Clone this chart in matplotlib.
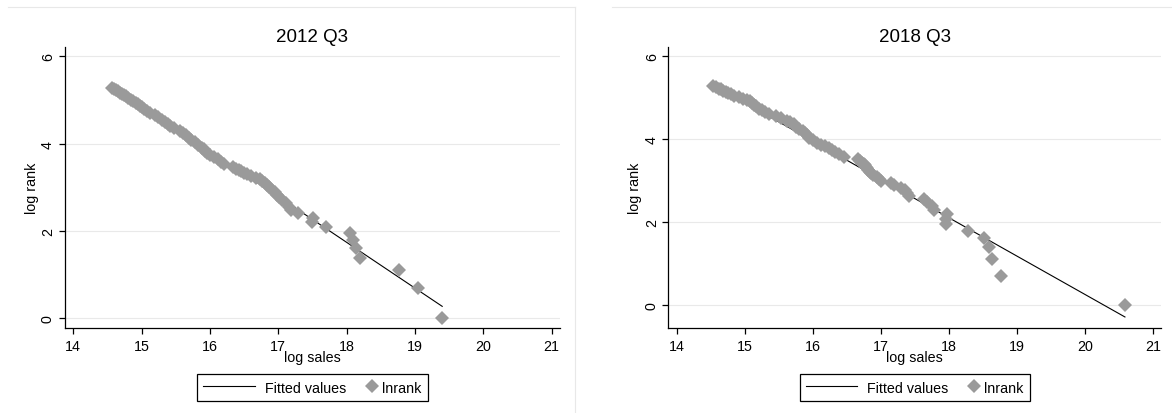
import matplotlib
matplotlib.use("Agg")
import matplotlib.pyplot as plt
from matplotlib.lines import Line2D
from matplotlib.legend_handler import HandlerLine2DCompound
import numpy as np

plt.rcParams['font.family'] = ['Liberation Sans', 'DejaVu Sans']

# ---------------- data ----------------
titles = ["2012 Q3", "2018 Q3"]
x_label = "log sales"
y_label = "log rank"
legend_labels = ["Fitted values", "lnrank"]
x_ticks = [14, 15, 16, 17, 18, 19, 20, 21]
y_ticks = [0, 2, 4, 6]

lnrank_2012 = [5.27, 5.25, 5.22, 5.20, 5.17, 5.14, 5.11, 5.08, 5.05, 5.01,
               4.98, 4.94, 4.91, 4.87, 4.83, 4.79, 4.74, 4.70, 4.65, 4.60,
               4.55, 4.50, 4.45, 4.41, 4.36, 4.30, 4.25, 4.19, 4.14, 4.09,
               4.03, 3.97, 3.91, 3.87, 3.83, 3.78, 3.74, 3.69, 3.64, 3.58,
               3.53, 3.47, 3.43, 3.40, 3.37, 3.33, 3.30, 3.26, 3.22, 3.18,
               3.14, 3.09, 3.05, 3.00, 2.94, 2.89, 2.83, 2.77, 2.71, 2.64,
               2.56, 2.48, 2.40, 2.30, 2.20, 2.08, 1.95, 1.79, 1.61, 1.39,
               1.10, 0.69, 0.00]
logsales_2012 = [14.57, 14.60, 14.63, 14.65, 14.68, 14.71, 14.74, 14.77, 14.80, 14.84,
                 14.88, 14.92, 14.95, 14.98, 15.01, 15.04, 15.08, 15.13, 15.19, 15.24,
                 15.30, 15.34, 15.38, 15.42, 15.48, 15.57, 15.61, 15.65, 15.69, 15.73,
                 15.78, 15.83, 15.88, 15.91, 15.93, 15.96, 16.00, 16.06, 16.12, 16.17,
                 16.21, 16.34, 16.38, 16.42, 16.45, 16.50, 16.54, 16.60, 16.68, 16.73,
                 16.77, 16.81, 16.84, 16.87, 16.91, 16.95, 16.98, 17.01, 17.06, 17.11,
                 17.16, 17.19, 17.29, 17.51, 17.50, 17.70, 18.05, 18.09, 18.14, 18.19,
                 18.77, 19.05, 19.40]
fit_2012 = (20.605, -1.048)   # intercept, slope

lnrank_2018 = [5.28, 5.25, 5.22, 5.20, 5.17, 5.14, 5.11, 5.08, 5.05, 5.01,
               4.98, 4.94, 4.91, 4.87, 4.83, 4.79, 4.74, 4.70, 4.65, 4.60,
               4.55, 4.50, 4.45, 4.41, 4.36, 4.30, 4.25, 4.19, 4.14, 4.09,
               4.03, 3.97, 3.91, 3.87, 3.83, 3.78, 3.74, 3.69, 3.64, 3.58,
               3.53, 3.47, 3.43, 3.40, 3.37, 3.33, 3.30, 3.26, 3.22, 3.18,
               3.14, 3.09, 3.05, 3.00, 2.94, 2.89, 2.83, 2.77, 2.71, 2.64,
               2.56, 2.48, 2.40, 2.30, 2.20, 2.08, 1.95, 1.79, 1.61, 1.39,
               1.10, 0.69, 0.00]
logsales_2018 = [14.54, 14.58, 14.62, 14.65, 14.68, 14.72, 14.76, 14.80, 14.84, 14.91,
                 14.97, 15.04, 15.08, 15.11, 15.13, 15.16, 15.21, 15.26, 15.30, 15.36,
                 15.46, 15.54, 15.62, 15.67, 15.72, 15.76, 15.80, 15.85, 15.88, 15.92,
                 15.95, 16.00, 16.06, 16.12, 16.18, 16.24, 16.28, 16.33, 16.39, 16.46,
                 16.66, 16.70, 16.73, 16.75, 16.77, 16.79, 16.80, 16.82, 16.84, 16.86,
                 16.89, 16.95, 16.98, 17.01, 17.15, 17.19, 17.30, 17.35, 17.38, 17.41,
                 17.63, 17.68, 17.75, 17.79, 17.97, 17.96, 17.96, 18.28, 18.52, 18.59,
                 18.64, 18.77, 20.59]
fit_2018 = (18.757, -0.925)

panels = [
    dict(title=titles[0], x=logsales_2012, y=lnrank_2012, fit=fit_2012,
         xlim=(13.874, 21.124), ylim=(-0.229, 6.206),
         rect=[0.05512, 0.20459, 0.42270, 0.67874], ylab_x=-0.0664),
    dict(title=titles[1], x=logsales_2018, y=lnrank_2018, fit=fit_2018,
         xlim=(13.88, 21.12), ylim=(-0.562, 6.217),
         rect=[0.57039, 0.20459, 0.42022, 0.67874], ylab_x=-0.069),
]

# ---------------- style ----------------
marker_color = "#9a9a9a"
grid_color = "#e9e9e9"
fs = 10.3
ms = 7.5


class EndMarkerHandler(HandlerLine2DCompound):
    """Marker drawn at the right end of the legend handle box."""
    def get_xdata(self, legend, xdescent, ydescent, width, height, fontsize):
        return [-xdescent, -xdescent + width], [-xdescent + width]


fig = plt.figure(figsize=(11.72, 4.14), dpi=100)
fig.patch.set_facecolor("white")

# faint outer graph-region borders
W, H = 1172.0, 414.0
for (x0, y0, x1, y1) in [(8, 8, 575, 8), (575, 8, 575, 414), (612, 8, 1172, 8)]:
    fig.add_artist(Line2D([x0 / W, x1 / W], [1 - y0 / H, 1 - y1 / H],
                          transform=fig.transFigure, color="#e8e8e8", lw=0.8))

for p in panels:
    ax = fig.add_axes(p["rect"])
    x = np.array(p["x"])
    y = np.array(p["y"])
    b0, b1 = p["fit"]
    xf = np.array([x.min(), x.max()])
    ax.plot(xf, b0 + b1 * xf, color="black", lw=0.8, zorder=3)
    ax.plot(x, y, ls="None", marker="D", ms=ms, mew=0, color=marker_color, zorder=4)

    ax.set_xlim(*p["xlim"])
    ax.set_ylim(*p["ylim"])
    ax.set_xticks(x_ticks)
    ax.set_yticks(y_ticks)
    ax.set_yticklabels([str(t) for t in y_ticks], rotation=90, va="center")
    ax.tick_params(axis="both", direction="out", length=4, width=0.9,
                   color="black", labelsize=fs, labelcolor="black")
    ax.tick_params(axis="y", pad=3)
    ax.tick_params(axis="x", pad=3.5)
    for s in ["top", "right"]:
        ax.spines[s].set_visible(False)
    for s in ["left", "bottom"]:
        ax.spines[s].set_linewidth(0.9)
        ax.spines[s].set_color("black")
    ax.grid(axis="y", color=grid_color, lw=0.8)
    ax.set_axisbelow(True)

    ax.set_title(p["title"], fontsize=13.5, pad=4.8)
    ax.set_xlabel(x_label, fontsize=fs, va="center", ha="center")
    ax.xaxis.set_label_coords(0.5, -0.103)
    ax.set_ylabel(y_label, fontsize=fs, va="center", ha="center",
                  rotation_mode="default")
    ax.yaxis.set_label_coords(p["ylab_x"], 0.5)

    h_line = Line2D([], [], color="black", lw=0.8)
    h_mark = Line2D([], [], ls="None", marker="D", ms=ms, mew=0, color=marker_color)
    leg = ax.legend([h_line, h_mark], legend_labels, ncol=2, loc="center",
                    bbox_to_anchor=(0.5, -0.2107), bbox_transform=ax.transAxes,
                    fontsize=fs, frameon=True, fancybox=False, framealpha=1,
                    edgecolor="black", handlelength=3.58, handletextpad=0.7,
                    columnspacing=-1.78, borderpad=0.45, numpoints=1,
                    handler_map={h_mark: EndMarkerHandler(numpoints=1)})
    leg.get_frame().set_linewidth(0.9)

fig.savefig("out.png", dpi=100, facecolor="white")
